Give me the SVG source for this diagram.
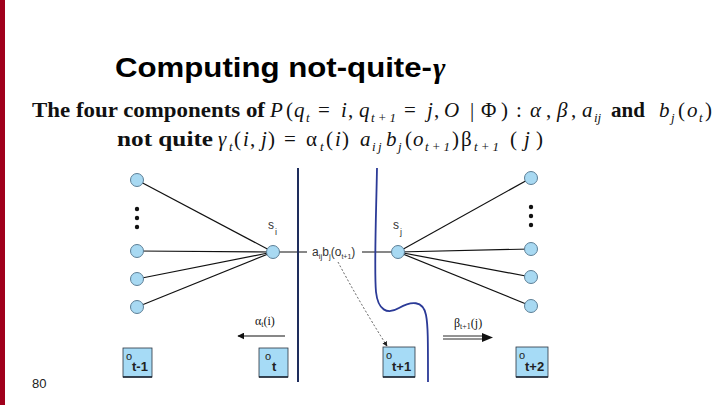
<svg xmlns="http://www.w3.org/2000/svg" width="720" height="405" viewBox="0 0 720 405">
<defs>
<style>
.ser{font-family:"Liberation Serif","Times New Roman",serif;fill:#111}
.it{font-style:italic}
.bd{font-weight:bold}
.sub{font-size:13px}
.sans{font-family:"Liberation Sans",Arial,sans-serif}
.edge{stroke:#111;stroke-width:1.2;fill:none}
.st{fill:#a8d9f2;stroke:#5d7f96;stroke-width:1}
.dot{fill:#111}
.obs{fill:#a6dbf6;stroke:#2a3440;stroke-width:0.8}
.lbl{font-family:"Liberation Sans",Arial,sans-serif;font-size:12px;fill:#333}
</style>
<marker id="ah" viewBox="0 0 10 10" refX="9" refY="5" markerWidth="7" markerHeight="7" orient="auto" markerUnits="userSpaceOnUse">
<path d="M0,0 L10,5 L0,10 z" fill="#111"/>
</marker>
<marker id="ahs" viewBox="0 0 10 10" refX="9" refY="5" markerWidth="5" markerHeight="5" orient="auto" markerUnits="userSpaceOnUse">
<path d="M0,0 L10,5 L0,10 z" fill="#222"/>
</marker>
</defs>
<rect width="720" height="405" fill="#ffffff"/>
<rect x="0" y="0" width="5" height="405" fill="#a0001c"/>

<g id="title">
<text x="115" y="77" class="sans bd" font-size="28" fill="#000" textLength="317" lengthAdjust="spacingAndGlyphs">Computing not-quite-</text>
<text x="433" y="78" font-family="Liberation Serif,serif" font-size="30" font-weight="bold" font-style="italic" fill="#000">γ</text>
</g>

<g id="line1" class="ser" font-size="21">
<text x="32" y="117" class="bd" textLength="233" lengthAdjust="spacingAndGlyphs">The four components of</text>
<text y="117"><tspan x="270" class="it">P</tspan><tspan x="286">(</tspan><tspan x="294" class="it">q</tspan><tspan x="306" y="122" class="it sub">t</tspan><tspan x="318" y="117">=</tspan><tspan x="341" class="it">i</tspan><tspan x="348">,</tspan><tspan x="359" class="it">q</tspan><tspan x="371" y="122" class="it sub" textLength="25" lengthAdjust="spacing">t+1</tspan><tspan x="404" y="117">=</tspan><tspan x="427" class="it">j</tspan><tspan x="434">,</tspan><tspan x="444" class="it">O</tspan><tspan x="470">|</tspan><tspan x="481">Φ</tspan><tspan x="501">)</tspan><tspan x="516">:</tspan><tspan x="530" class="it">α</tspan><tspan x="546">,</tspan><tspan x="557" class="it">β</tspan><tspan x="571">,</tspan><tspan x="582" class="it">a</tspan><tspan x="594" y="122" class="it sub">ij</tspan><tspan x="611" y="117" class="bd">and</tspan><tspan x="659" class="it">b</tspan><tspan x="671" y="122" class="it sub">j</tspan><tspan x="678" y="117">(</tspan><tspan x="687" class="it">o</tspan><tspan x="699" y="122" class="it sub">t</tspan><tspan x="705" y="117">)</tspan></text>
</g>

<g id="line2" class="ser" font-size="21">
<text x="117" y="146" class="bd" textLength="96" lengthAdjust="spacingAndGlyphs">not quite</text>
<text y="146"><tspan x="218" class="it">γ</tspan><tspan x="229" y="151" class="it sub">t</tspan><tspan x="234" y="146">(</tspan><tspan x="243" class="it">i</tspan><tspan x="250">,</tspan><tspan x="261" class="it">j</tspan><tspan x="268">)</tspan><tspan x="284">=</tspan><tspan x="306">α</tspan><tspan x="320" y="151" class="it sub">t</tspan><tspan x="326" y="146">(</tspan><tspan x="335" class="it">i</tspan><tspan x="342">)</tspan><tspan x="360" class="it">a</tspan><tspan x="372" y="151" class="it sub">i</tspan><tspan x="378" class="it sub">j</tspan><tspan x="386" y="146" class="it">b</tspan><tspan x="398" y="151" class="it sub">j</tspan><tspan x="405" y="146">(</tspan><tspan x="413" class="it">o</tspan><tspan x="425" y="151" class="it sub" textLength="25" lengthAdjust="spacing">t+1</tspan><tspan x="452" y="146">)</tspan><tspan x="461">β</tspan><tspan x="474" y="151" class="it sub" textLength="25" lengthAdjust="spacing">t+1</tspan><tspan x="510" y="146">(</tspan><tspan x="524" class="it">j</tspan><tspan x="536">)</tspan></text>
</g>

<g id="connectors">
<line class="edge" x1="137" y1="180" x2="273" y2="252"/>
<line class="edge" x1="137" y1="251" x2="273" y2="252"/>
<line class="edge" x1="137" y1="279" x2="273" y2="252"/>
<line class="edge" x1="137" y1="307" x2="273" y2="252"/>
<line class="edge" x1="273" y1="252" x2="307" y2="252"/>
<line class="edge" x1="362" y1="252" x2="398" y2="252"/>
<line class="edge" x1="398" y1="252" x2="531" y2="178"/>
<line class="edge" x1="398" y1="252" x2="531" y2="249"/>
<line class="edge" x1="398" y1="252" x2="531" y2="277"/>
<line class="edge" x1="398" y1="252" x2="531" y2="306"/>
<path d="M338,262 Q358,300 387,346" fill="none" stroke="#333" stroke-width="0.8" stroke-dasharray="2,2" marker-end="url(#ahs)"/>
<line x1="285" y1="336" x2="238" y2="336" stroke="#111" stroke-width="1.2" marker-end="url(#ah)"/>
<line x1="443" y1="336" x2="484" y2="336" stroke="#111" stroke-width="0.9"/>
<line x1="443" y1="339" x2="484" y2="339" stroke="#111" stroke-width="0.9"/>
<path d="M482,333 L493,337.5 L482,342 z" fill="#111"/>
</g>

<g id="dividers">
<line x1="298" y1="168" x2="298" y2="382" stroke="#1e2d5c" stroke-width="2"/>
<path d="M377,168 C376,220 374,270 376,292 C378,310 387,315 399,308 C411,301 423,300 426,315 C428,325 428,340 428,382" fill="none" stroke="#2b3a97" stroke-width="1.8"/>
</g>

<g id="left-states">
<circle class="st" cx="137" cy="180" r="6.5"/>
<circle class="dot" cx="137" cy="209" r="2.2"/>
<circle class="dot" cx="137" cy="218" r="2.2"/>
<circle class="dot" cx="137" cy="227" r="2.2"/>
<circle class="st" cx="137" cy="251" r="6.5"/>
<circle class="st" cx="137" cy="279" r="6.5"/>
<circle class="st" cx="137" cy="307" r="6.5"/>
</g>

<g id="right-states">
<circle class="st" cx="531" cy="178" r="6.5"/>
<circle class="dot" cx="531" cy="207" r="2.2"/>
<circle class="dot" cx="531" cy="216" r="2.2"/>
<circle class="dot" cx="531" cy="225" r="2.2"/>
<circle class="st" cx="531" cy="249" r="6.5"/>
<circle class="st" cx="531" cy="277" r="6.5"/>
<circle class="st" cx="531" cy="306" r="6.5"/>
</g>

<g id="si">
<circle class="st" cx="273" cy="252" r="6.5"/>
<text class="lbl" x="268" y="229">s<tspan x="275" y="235" font-size="9">i</tspan></text>
</g>

<g id="sj">
<circle class="st" cx="398" cy="252" r="6.5"/>
<text class="lbl" x="393" y="229">s<tspan x="400" y="235" font-size="9">j</tspan></text>
</g>

<g id="trans-label">
<text class="lbl" x="312" y="256">a<tspan font-size="8" dy="3">ij</tspan><tspan dy="-3">b</tspan><tspan font-size="8" dy="3">j</tspan><tspan dy="-3">(o</tspan><tspan font-size="7" dy="3">t+1</tspan><tspan dy="-3">)</tspan></text>
</g>

<g id="alpha-label">
<text x="255" y="325" class="ser" font-size="12" fill="#333">α<tspan font-size="8" dy="2">t</tspan><tspan dy="-2">(i)</tspan></text>
</g>

<g id="beta-label">
<text x="454" y="327" class="ser" font-size="12" fill="#333">β<tspan font-size="8" dy="2">t+1</tspan><tspan dy="-2">(j)</tspan></text>
</g>

<g id="o-tm1">
<rect class="obs" x="123" y="348" width="29" height="29"/>
<line x1="123" y1="377" x2="152" y2="377" stroke="#1a2330" stroke-width="1.5"/>
<text class="sans" x="126" y="360" font-size="11" fill="#222">o<tspan x="132" y="371" font-size="13" font-weight="bold">t-1</tspan></text>
</g>

<g id="o-t">
<rect class="obs" x="259" y="348" width="29" height="29"/>
<line x1="259" y1="377" x2="288" y2="377" stroke="#1a2330" stroke-width="1.5"/>
<text class="sans" x="265" y="360" font-size="11" fill="#222">o<tspan x="272" y="371" font-size="13" font-weight="bold">t</tspan></text>
</g>

<g id="o-tp1">
<rect class="obs" x="383" y="347" width="32" height="30"/>
<line x1="383" y1="377" x2="415" y2="377" stroke="#1a2330" stroke-width="1.5"/>
<text class="sans" x="386" y="359" font-size="11" fill="#222">o<tspan x="392" y="371" font-size="13" font-weight="bold">t+1</tspan></text>
</g>

<g id="o-tp2">
<rect class="obs" x="516" y="347" width="32" height="30"/>
<line x1="516" y1="377" x2="548" y2="377" stroke="#1a2330" stroke-width="1.5"/>
<text class="sans" x="519" y="359" font-size="11" fill="#222">o<tspan x="525" y="371" font-size="13" font-weight="bold">t+2</tspan></text>
</g>

<g id="page-number">
<text class="sans" x="32" y="388" font-size="13" fill="#222">80</text>
</g>
</svg>
